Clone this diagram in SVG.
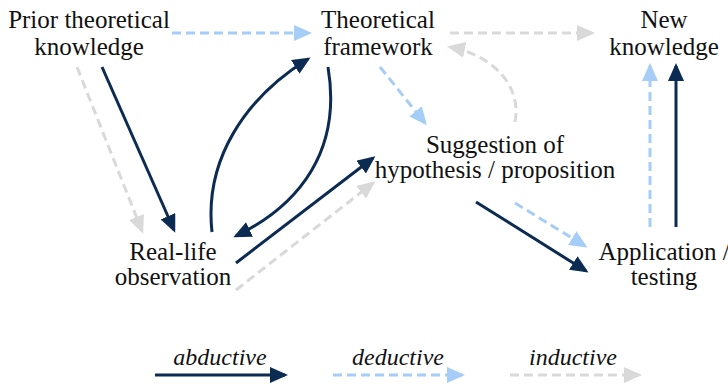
<svg xmlns="http://www.w3.org/2000/svg" width="728" height="386" viewBox="0 0 728 386">
  <style>
    text { font-size: 25px; fill: #111; text-anchor: middle; }
    .legend { font-style: italic; font-size: 24px; }
    .ab { fill: none; stroke: #0b2b52; stroke-width: 3; }
    .de { fill: none; stroke: #a6cdf7; stroke-width: 3; stroke-dasharray: 9 5; }
    .in { fill: none; stroke: #d9d9d9; stroke-width: 3; stroke-dasharray: 9 5; }
  </style>
  <defs>
    <marker id="head-ab" markerUnits="userSpaceOnUse" markerWidth="18" markerHeight="16" refX="15" refY="8" orient="auto">
      <path d="M0,0 L18,8 L0,16 z" fill="#0b2b52"/>
    </marker>
    <marker id="head-de" markerUnits="userSpaceOnUse" markerWidth="18" markerHeight="16" refX="15" refY="8" orient="auto">
      <path d="M0,0 L18,8 L0,16 z" fill="#a6cdf7"/>
    </marker>
    <marker id="head-in" markerUnits="userSpaceOnUse" markerWidth="18" markerHeight="16" refX="15" refY="8" orient="auto">
      <path d="M0,0 L18,8 L0,16 z" fill="#d9d9d9"/>
    </marker>
  </defs>

  <!-- nodes -->
  <g id="prior">
    <text x="89" y="28" font-family="Liberation Serif">Prior theoretical</text>
    <text x="89" y="55" font-family="Liberation Serif">knowledge</text>
  </g>
  <g id="framework">
    <text x="378" y="28" font-family="Liberation Serif">Theoretical</text>
    <text x="378" y="55" font-family="Liberation Serif">framework</text>
  </g>
  <g id="new-knowledge">
    <text x="664" y="28" font-family="Liberation Serif">New</text>
    <text x="664" y="55" font-family="Liberation Serif">knowledge</text>
  </g>
  <g id="suggestion">
    <text x="495" y="153" font-family="Liberation Serif">Suggestion of</text>
    <text x="495" y="178" font-family="Liberation Serif">hypothesis / proposition</text>
  </g>
  <g id="observation">
    <text x="173" y="260" font-family="Liberation Serif">Real-life</text>
    <text x="173" y="285" font-family="Liberation Serif">observation</text>
  </g>
  <g id="application">
    <text x="664" y="260" font-family="Liberation Serif">Application /</text>
    <text x="664" y="285" font-family="Liberation Serif">testing</text>
  </g>

  <!-- connectors: solid = abductive, blue dashed = deductive, grey dashed = inductive -->
  <g id="connectors">
    <path class="de" d="M172,33 L309,33" marker-end="url(#head-de)"/>
    <path class="in" d="M450,33 L592,33" marker-end="url(#head-in)"/>
    <path class="ab" d="M102,67 L174,230" marker-end="url(#head-ab)"/>
    <path class="in" d="M77,67 L142,231" marker-end="url(#head-in)"/>
    <path class="ab" d="M212,232 C204,160 245,98 308,59" marker-end="url(#head-ab)"/>
    <path class="ab" d="M328,67 C342,150 300,205 236,236" marker-end="url(#head-ab)"/>
    <path class="ab" d="M236,263 L373,158" marker-end="url(#head-ab)"/>
    <path class="in" d="M236,290 L373,183" marker-end="url(#head-in)"/>
    <path class="de" d="M380,67 L425,123" marker-end="url(#head-de)"/>
    <path class="in" d="M515,122 C522,85 492,55 450,47" marker-end="url(#head-in)"/>
    <path class="ab" d="M476,202 L586,271" marker-end="url(#head-ab)"/>
    <path class="de" d="M515,203 L585,246" marker-end="url(#head-de)"/>
    <path class="de" d="M650,227 L650,66" marker-end="url(#head-de)"/>
    <path class="ab" d="M676,227 L676,66" marker-end="url(#head-ab)"/>
  </g>

  <!-- legend -->
  <g id="legend">
    <text class="legend" x="220" y="365" font-family="Liberation Serif">abductive</text>
    <path class="ab" d="M155,375 L285,375" marker-end="url(#head-ab)"/>
    <text class="legend" x="398" y="365" font-family="Liberation Serif">deductive</text>
    <path class="de" d="M333,375 L462,375" marker-end="url(#head-de)"/>
    <text class="legend" x="573" y="365" font-family="Liberation Serif">inductive</text>
    <path class="in" d="M510,375 L639,375" marker-end="url(#head-in)"/>
  </g>
</svg>
